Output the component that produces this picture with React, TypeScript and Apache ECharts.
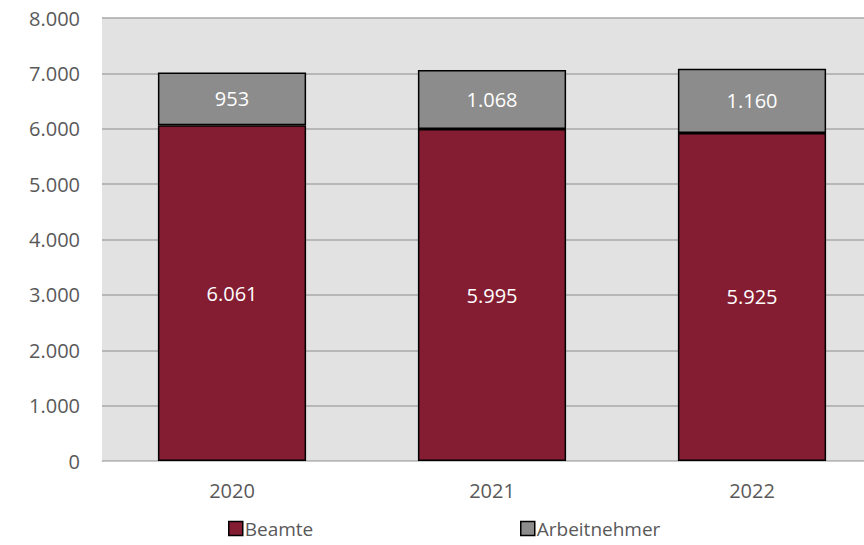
import React, { useEffect, useRef } from "react";
import * as echarts from "echarts";

const categories = ["2020", "2021", "2022"];
const beamte = [6061, 5995, 5925];
const arbeitnehmer = [953, 1068, 1160];

const FONT = "'Open Sans', 'Noto Sans', sans-serif";
const fmt = (v: number) => v.toLocaleString("de-DE");

export default function App() {
  const ref = useRef<HTMLDivElement>(null);
  useEffect(() => {
    if (!ref.current) return;
    const chart = echarts.init(ref.current, undefined, { renderer: "svg" });
    const legendText = { fontFamily: FONT, fontSize: 19, color: "#595959" };
    chart.setOption({
      animation: false,
      backgroundColor: "#ffffff",
      textStyle: { fontFamily: FONT },
      grid: {
        left: 102,
        right: 0,
        top: 18,
        bottom: 84,
        show: true,
        backgroundColor: "#e2e2e2",
        borderWidth: 0,
      },
      legend: [
        {
          data: ["Beamte"],
          left: 228,
          top: 519,
          padding: 0,
          itemWidth: 14,
          itemHeight: 14,
          icon: "rect",
          itemStyle: { borderColor: "#000", borderWidth: 1.5 },
          textStyle: { ...legendText, padding: [0, 0, 0, -3] },
        },
        {
          data: ["Arbeitnehmer"],
          left: 520,
          top: 519,
          padding: 0,
          itemWidth: 14,
          itemHeight: 14,
          icon: "rect",
          itemStyle: { borderColor: "#000", borderWidth: 1.5 },
          textStyle: { ...legendText, padding: [0, 0, 0, -3] },
        },
      ],
      xAxis: {
        type: "category",
        data: categories,
        axisLine: { show: true, lineStyle: { color: "#c8c8c8", width: 1 } },
        axisTick: { show: false },
        axisLabel: { fontFamily: FONT, fontSize: 20, color: "#595959", margin: 19 },
      },
      yAxis: {
        type: "value",
        min: 0,
        max: 8000,
        interval: 1000,
        axisLine: { show: false },
        axisTick: { show: false },
        splitLine: { lineStyle: { color: "#a8a8a8", width: 1.5 } },
        axisLabel: {
          fontFamily: FONT,
          fontSize: 20,
          color: "#595959",
          margin: 22,
          formatter: (v: number) => fmt(v),
        },
      },
      series: [
        {
          name: "Beamte",
          type: "bar",
          stack: "total",
          data: beamte,
          barWidth: "57%",
          itemStyle: { color: "#841c32", borderColor: "#000", borderWidth: 1.5 },
          label: {
            show: true,
            position: "inside",
            color: "#ffffff",
            fontFamily: FONT,
            fontSize: 20,
            formatter: (p: any) => fmt(p.value),
          },
        },
        {
          name: "Arbeitnehmer",
          type: "bar",
          stack: "total",
          data: arbeitnehmer,
          barWidth: "57%",
          itemStyle: { color: "#8c8c8c", borderColor: "#000", borderWidth: 1.5 },
          label: {
            show: true,
            position: "inside",
            color: "#ffffff",
            fontFamily: FONT,
            fontSize: 20,
            formatter: (p: any) => fmt(p.value),
          },
        },
      ],
    });
    return () => chart.dispose();
  }, []);
  return (
    <div
      style={{ position: "fixed", left: 0, top: 0, width: 864, height: 545, overflow: "hidden" }}
    >
      <div ref={ref} style={{ width: 882, height: 545 }} />
    </div>
  );
}
